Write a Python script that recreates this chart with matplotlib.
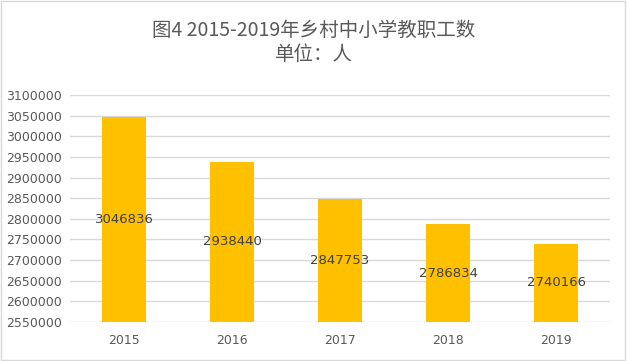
import matplotlib
matplotlib.use("Agg")
import matplotlib.pyplot as plt
from matplotlib.patches import Rectangle

# data
years = ["2015", "2016", "2017", "2018", "2019"]
staff = [3046836, 2938440, 2847753, 2786834, 2740166]
y_ticks = list(range(2550000, 3100001, 50000))

plt.rcParams['font.family'] = ['DejaVu Sans', 'Noto Sans CJK SC']

fig = plt.figure(figsize=(6.27, 3.61), dpi=100)
ax = fig.add_axes([70 / 627, 1 - 322 / 361, 540 / 627, 227 / 361])

bar_color = '#FFC000'
x = range(len(years))
ax.bar(x, staff, width=0.4, bottom=0, color=bar_color, zorder=3)
ax.set_xlim(-0.5, len(years) - 0.5)
ax.set_ylim(2550000, 3100000)
ax.set_yticks(y_ticks)
ax.set_yticklabels([str(v) for v in y_ticks])
ax.set_xticks(list(x))
ax.set_xticklabels(years)
ax.tick_params(axis='both', length=0, labelsize=9, colors='#595959')
ax.tick_params(axis='y', pad=6)
ax.tick_params(axis='x', pad=9)
ax.grid(axis='y', color='#D9D9D9', linewidth=1, zorder=0)
for s in ax.spines.values():
    s.set_visible(False)

# value labels in middle of visible part of bar
for i, v in enumerate(staff):
    mid = (2550000 + v) / 2
    ax.text(i, mid, str(v), ha='center', va='center', fontsize=9.5,
            color='#404040', zorder=4)

fig.text(0.5, 1 - 30 / 361, "图4 2015-2019年乡村中小学教职工数", ha='center', va='center',
         fontsize=14, color='#595959', family=['Noto Sans CJK SC', 'DejaVu Sans'])
fig.text(0.5, 1 - 55 / 361, "单位：人", ha='center', va='center',
         fontsize=14, color='#595959', family=['Noto Sans CJK SC', 'DejaVu Sans'])

# thin gray border around the chart
fig.patches.append(Rectangle((0.002, 0.003), 0.995, 0.994, transform=fig.transFigure,
                             fill=False, edgecolor='#D9D9D9', linewidth=1))

fig.savefig("out.png", dpi=100)
